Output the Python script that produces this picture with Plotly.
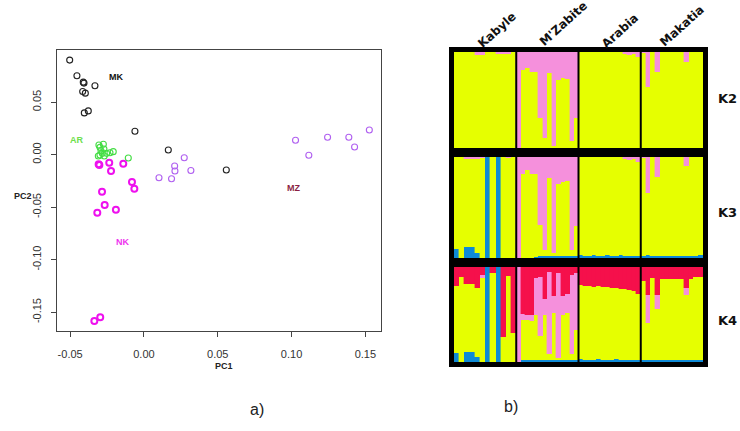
import plotly.graph_objects as go

W, H = 740, 431

# ---------------- PCA scatter data (panel a) ----------------
MK_pc1 = [-0.0503, -0.0454, -0.0411, -0.0406, -0.0415, -0.0397, -0.0332, -0.0404, -0.0377, -0.0061, 0.0165, 0.0558]
MK_pc2 = [0.0901, 0.0752, 0.0691, 0.0682, 0.0602, 0.0586, 0.0656, 0.0398, 0.0417, 0.0223, 0.0045, -0.0146]

AR_pc1 = [-0.0305, -0.0275, -0.0298, -0.0271, -0.0298, -0.0282, -0.0269, -0.0253, -0.0230, -0.0208, -0.0106, -0.0309, -0.0291]
AR_pc2 = [0.0092, 0.0099, 0.0070, 0.0054, -0.0003, 0.0013, -0.0013, 0.0013, 0.0019, 0.0029, -0.0032, -0.0013, 0.0038]

NK_pc1 = [-0.0307, -0.0302, -0.0235, -0.0223, -0.0140, -0.0081, -0.0065, -0.0284, -0.0266, -0.0316, -0.0190, -0.0336, -0.0296]
NK_pc2 = [-0.0092, -0.0098, -0.0076, -0.0156, -0.0086, -0.0261, -0.0325, -0.0354, -0.0478, -0.0554, -0.0525, -0.1583, -0.1548]

MZ_pc1 = [0.0102, 0.0187, 0.0208, 0.0210, 0.0273, 0.0318, 0.1027, 0.1117, 0.1244, 0.1388, 0.1427, 0.1527]
MZ_pc2 = [-0.0220, -0.0229, -0.0108, -0.0156, -0.0029, -0.0150, 0.0137, -0.0006, 0.0166, 0.0166, 0.0073, 0.0235]

group_labels = ["MK", "AR", "NK", "MZ"]
label_pc1 = [-0.0190, -0.0456, -0.0140, 0.1016]
label_pc2 = [0.0739, 0.0140, -0.0828, -0.0318]

x_ticks = [-0.05, 0.0, 0.05, 0.10, 0.15]
x_ticktext = ["-0.05", "0.00", "0.05", "0.10", "0.15"]
y_ticks = [-0.15, -0.10, -0.05, 0.0, 0.05]
y_ticktext = ["-0.15", "-0.10", "-0.05", "0.00", "0.05"]

# ---------------- STRUCTURE data (panel b) ----------------
POPS = ["Kabyle", "M'Zabite", "Arabia", "Makatia"]
N_IND = [12, 14, 14, 13]
K_LABELS = ["K2", "K3", "K4"]

# K = 2
K2_yellow = ([1, 1, 1, 1, 0.97, 0.97, 1, 1, 0.98, 0.98, 0.98, 1] +
             [0, 0.81, 0.83, 0.79, 0.79, 0.31, 0.10, 0.78, 0.02, 0.71, 0.73, 0.72, 0.07, 0.31] +
             [1, 1, 1, 1, 1, 1, 1, 1, 1, 1, 0.98, 0.97, 0.98, 0.95] +
             [0.99, 0.64, 1, 0.79, 1, 1, 1, 1, 1, 0.90, 1, 1, 1])
K2_pink = ([0, 0, 0, 0, 0.03, 0.03, 0, 0, 0.02, 0.02, 0.02, 0] +
           [1.0, 0.19, 0.17, 0.21, 0.21, 0.69, 0.90, 0.22, 0.98, 0.29, 0.27, 0.28, 0.93, 0.69] +
           [0, 0, 0, 0, 0, 0, 0, 0, 0, 0, 0.02, 0.03, 0.02, 0.05] +
           [0.01, 0.36, 0, 0.21, 0, 0, 0, 0, 0, 0.10, 0, 0, 0])

# K = 3
K3_blue = ([0.09, 0, 0.11, 0.11, 0.05, 0, 1.0, 0, 1.0, 0, 0, 0] +
           [0, 0, 0, 0, 0.01, 0.02, 0.02, 0.02, 0.02, 0.02, 0.02, 0.02, 0.02, 0.02] +
           [0.03, 0.02, 0.02, 0.03, 0.02, 0.02, 0.03, 0.02, 0.02, 0.03, 0.02, 0.02, 0.02, 0.02] +
           [0.02, 0.03, 0.02, 0.02, 0.02, 0.02, 0.02, 0.02, 0.02, 0.02, 0.02, 0.02, 0.03])
K3_yellow = ([0.91, 1, 0.87, 0.87, 0.93, 0.99, 0, 1, 0, 1, 0.99, 1] +
             [0, 0.83, 0.87, 0.83, 0.82, 0.31, 0.06, 0.77, 0.03, 0.71, 0.73, 0.74, 0.06, 0.30] +
             [0.97, 0.98, 0.98, 0.97, 0.98, 0.98, 0.97, 0.98, 0.98, 0.97, 0.96, 0.95, 0.96, 0.93] +
             [0.97, 0.61, 0.98, 0.78, 0.98, 0.98, 0.98, 0.98, 0.98, 0.89, 0.98, 0.98, 0.97])
K3_pink = ([0, 0, 0.02, 0.02, 0.02, 0.01, 0, 0, 0, 0, 0.01, 0] +
           [1.0, 0.17, 0.13, 0.17, 0.17, 0.67, 0.92, 0.21, 0.95, 0.27, 0.25, 0.24, 0.92, 0.68] +
           [0, 0, 0, 0, 0, 0, 0, 0, 0, 0, 0.02, 0.03, 0.02, 0.05] +
           [0.01, 0.36, 0, 0.20, 0, 0, 0, 0, 0, 0.09, 0, 0, 0])

# K = 4
K4_blue = ([0.09, 0, 0.11, 0.11, 0.05, 0, 1.0, 0, 1.0, 0, 0, 0] +
           [0, 0.02, 0.02, 0.02, 0.02, 0.02, 0.02, 0.02, 0.02, 0.02, 0.02, 0.02, 0.02, 0.02] +
           [0.03, 0.02, 0.02, 0.02, 0.03, 0.02, 0.02, 0.02, 0.03, 0.02, 0.02, 0.02, 0.02, 0.02] +
           [0.02, 0.02, 0.02, 0.02, 0.02, 0.02, 0.02, 0.02, 0.02, 0.02, 0.02, 0.02, 0.02])
K4_yellow = ([0.71, 0.90, 0.71, 0.71, 0.73, 0.88, 0, 0.94, 0, 0.26, 0.91, 0.31] +
             [0, 0.42, 0.42, 0.41, 0.48, 0.25, 0.48, 0.06, 0.50, 0.02, 0.48, 0.50, 0.06, 0.32] +
             [0.78, 0.78, 0.78, 0.77, 0.77, 0.77, 0.77, 0.76, 0.75, 0.75, 0.75, 0.74, 0.73, 0.70] +
             [0.83, 0.39, 0.86, 0.54, 0.85, 0.85, 0.85, 0.85, 0.85, 0.69, 0.85, 0.87, 0.87])
K4_pink = ([0, 0, 0, 0, 0, 0.04, 0, 0, 0, 0, 0, 0] +
           [1.0, 0.07, 0.06, 0.07, 0.38, 0.63, 0.16, 0.87, 0.18, 0.90, 0.20, 0.20, 0.84, 0.60] +
           [0, 0, 0, 0, 0, 0, 0, 0, 0, 0, 0, 0, 0, 0] +
           [0, 0.30, 0, 0.15, 0, 0, 0, 0, 0, 0.07, 0, 0, 0])
K4_red = ([0.20, 0.10, 0.18, 0.18, 0.22, 0.08, 0, 0.06, 0, 0.74, 0.09, 0.69] +
          [0, 0.49, 0.50, 0.50, 0.12, 0.10, 0.34, 0.05, 0.30, 0.06, 0.30, 0.28, 0.08, 0.06] +
          [0.19, 0.20, 0.20, 0.21, 0.20, 0.21, 0.21, 0.22, 0.22, 0.23, 0.23, 0.24, 0.25, 0.28] +
          [0.15, 0.29, 0.12, 0.29, 0.13, 0.13, 0.13, 0.13, 0.13, 0.22, 0.13, 0.11, 0.11])

# ---------------- styling ----------------
YELLOW = "#E6FF00"
PINK = "#F590DC"
BLUE = "#0E8AD6"
RED = "#F5104B"

def px(x):
    return x / W

def py(y):
    return 1 - y / H

fig = go.Figure()

# ---- scatter ----
scatter_groups = [
    (MK_pc1, MK_pc2, "#222222", 1.1),
    (AR_pc1, AR_pc2, "#44DD44", 1.1),
    (NK_pc1, NK_pc2, "#EE11EE", 2.0),
    (MZ_pc1, MZ_pc2, "#B060F0", 1.1),
]
for xs, ys, col, lw in scatter_groups:
    fig.add_trace(go.Scatter(
        x=xs, y=ys, mode="markers", xaxis="x", yaxis="y",
        marker=dict(symbol="circle-open", size=6, color=col, line=dict(width=lw, color=col)),
        showlegend=False, hoverinfo="skip"))

label_colors = ["#111111", "#6EE04E", "#EE33EE", "#8B1F45"]
annotations = []
for lab, lx, ly, lc in zip(group_labels, label_pc1, label_pc2, label_colors):
    annotations.append(dict(x=lx, y=ly, xref="x", yref="y", text=f"<b>{lab}</b>",
                            showarrow=False, font=dict(family="Liberation Sans, Arial", size=9, color=lc)))

# ---- structure bars ----
xpos, widths = [], []
for p, n in enumerate(N_IND):
    for i in range(n):
        xpos.append(p + (i + 0.5) / n)
        widths.append(1.0 / n)

panels = [
    ("x2", "y2", [(K2_yellow, YELLOW), (K2_pink, PINK)]),
    ("x3", "y3", [(K3_blue, BLUE), (K3_yellow, YELLOW), (K3_pink, PINK)]),
    ("x4", "y4", [(K4_blue, BLUE), (K4_yellow, YELLOW), (K4_pink, PINK), (K4_red, RED)]),
]
for xa, ya, comps in panels:
    for vals, col in comps:
        fig.add_trace(go.Bar(
            x=xpos, y=vals, width=widths, xaxis=xa, yaxis=ya,
            marker=dict(color=col, line=dict(width=0.4, color=col)),
            showlegend=False, hoverinfo="skip"))

# panel geometry (pixels): inner areas
BX0, BX1 = 454, 703
panel_y = [(52, 148), (157, 258), (267, 362)]
k_label_y = [98, 212, 320]

shapes = []
for (y0, y1) in panel_y:
    shapes.append(dict(type="rect", xref="paper", yref="paper",
                       x0=px(BX0 - 2.5), x1=px(BX1 + 2.5), y0=py(y1 + 2.5), y1=py(y0 - 2.5),
                       line=dict(color="black", width=5), fillcolor="rgba(0,0,0,0)"))
for k, (xa, ya, _) in enumerate(panels):
    for b in [1, 2, 3]:
        shapes.append(dict(type="line", xref=xa, yref=f"{ya} domain", x0=b, x1=b, y0=0, y1=1,
                           line=dict(color="black", width=2)))

pop_centers = [(497, 30), (563, 24), (620, 31), (682, 26)]
for name, (cx, cy) in zip(POPS, pop_centers):
    annotations.append(dict(x=px(cx), y=py(cy), xref="paper", yref="paper", text=f"<b>{name}</b>",
                            textangle=-42, showarrow=False, xanchor="center", yanchor="middle",
                            font=dict(family="DejaVu Sans", size=12, color="#111111")))
for kl, ky in zip(K_LABELS, k_label_y):
    annotations.append(dict(x=px(727), y=py(ky), xref="paper", yref="paper", text=f"<b>{kl}</b>",
                            showarrow=False, xanchor="center", yanchor="middle",
                            font=dict(family="DejaVu Sans", size=13, color="#111111")))

# axis titles and panel tags
annotations += [
    dict(x=px(213), y=py(373), xref="paper", yref="paper", text="<b>PC1</b>", showarrow=False,
         font=dict(family="Liberation Sans, Arial", size=9, color="#222222")),
    dict(x=px(12), y=py(196), xref="paper", yref="paper", text="<b>PC2</b>", showarrow=False,
         font=dict(family="Liberation Sans, Arial", size=9, color="#222222")),
    dict(x=px(257), y=py(420), xref="paper", yref="paper", text="a)", showarrow=False,
         font=dict(family="Liberation Sans, Arial", size=16, color="#222222")),
    dict(x=px(520), y=py(417), xref="paper", yref="paper", text="b)", showarrow=False,
         font=dict(family="Liberation Sans, Arial", size=16, color="#222222")),
]

hidden = dict(visible=False, fixedrange=True)
fig.update_layout(
    width=W, height=H, autosize=False,
    margin=dict(l=0, r=0, t=0, b=0),
    paper_bgcolor="white", plot_bgcolor="white",
    barmode="stack", bargap=0,
    xaxis=dict(domain=[px(57), px(381)], range=[-0.0589, 0.1606], tickvals=x_ticks, ticktext=x_ticktext,
               showgrid=False, zeroline=False, showline=True, mirror=True, linecolor="#444444", linewidth=1,
               ticks="outside", ticklen=5, tickcolor="#444444", ticklabelstandoff=8,
               tickfont=dict(family="Liberation Sans, Arial", size=11, color="#333333"), anchor="y"),
    yaxis=dict(domain=[py(331), py(50)], range=[-0.1679, 0.0997], tickvals=y_ticks, ticktext=y_ticktext,
               showgrid=False, zeroline=False, showline=True, mirror=True, linecolor="#444444", linewidth=1,
               ticks="outside", ticklen=5, tickcolor="#444444", tickangle=-90, ticklabelstandoff=6,
               tickfont=dict(family="Liberation Sans, Arial", size=11, color="#333333"), anchor="x"),
    xaxis2=dict(domain=[px(BX0), px(BX1)], range=[0, 4], anchor="y2", **hidden),
    xaxis3=dict(domain=[px(BX0), px(BX1)], range=[0, 4], anchor="y3", **hidden),
    xaxis4=dict(domain=[px(BX0), px(BX1)], range=[0, 4], anchor="y4", **hidden),
    yaxis2=dict(domain=[py(panel_y[0][1]), py(panel_y[0][0])], range=[0, 1], anchor="x2", **hidden),
    yaxis3=dict(domain=[py(panel_y[1][1]), py(panel_y[1][0])], range=[0, 1], anchor="x3", **hidden),
    yaxis4=dict(domain=[py(panel_y[2][1]), py(panel_y[2][0])], range=[0, 1], anchor="x4", **hidden),
    shapes=shapes,
    annotations=annotations,
)

# remove the default page margin so the 740x431 figure fills the window exactly
fig.write_html("out.html", config={"displayModeBar": False},
               post_script="document.body.style.margin='0';document.body.style.overflow='hidden';")
